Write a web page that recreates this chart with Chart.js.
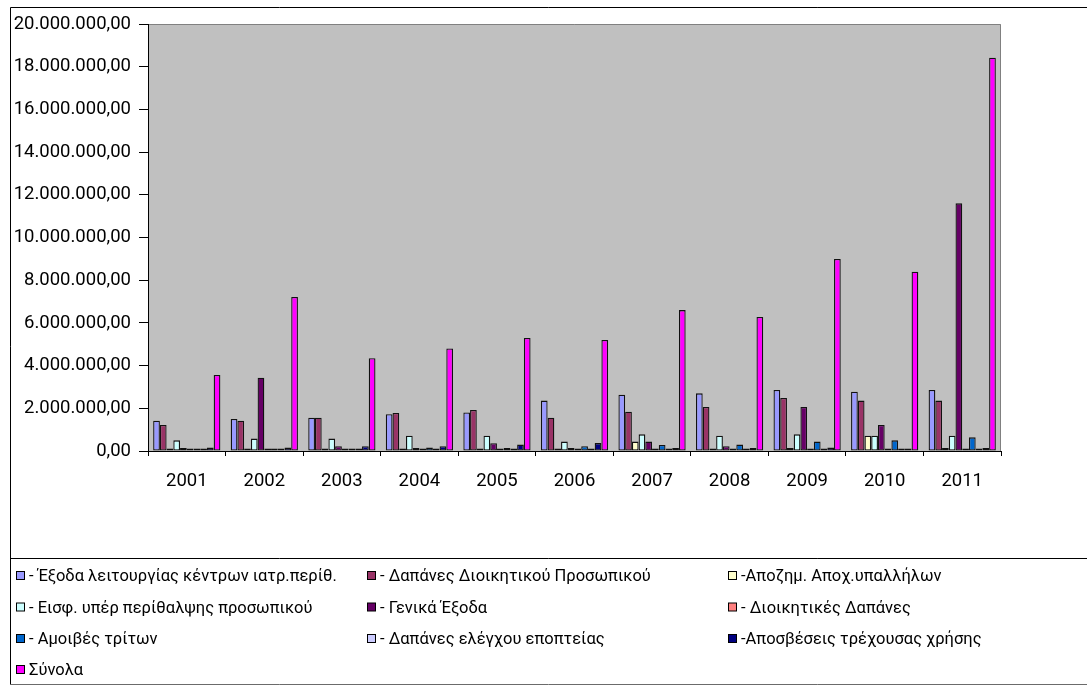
<!DOCTYPE html>
<html>
<head>
<meta charset="utf-8">
<script src="https://cdn.jsdelivr.net/npm/chart.js@4.4.1/dist/chart.umd.min.js"></script>
<style>
  html, body { margin: 0; padding: 0; background: #fff; }
  #wrap { position: relative; width: 1087px; height: 689px; }
</style>
</head>
<body>
<div id="wrap"><canvas id="c" width="1087" height="689"></canvas></div>
<script>
// Years on the category axis
const years = ['2001', '2002', '2003', '2004', '2005', '2006', '2007', '2008', '2009', '2010', '2011'];

// Expense categories (legend order)
const seriesNames = [
  '- Έξοδα λειτουργίας κέντρων ιατρ.περίθ.',
  '- Δαπάνες Διοικητικού Προσωπικού',
  '-Αποζημ. Αποχ.υπαλλήλων',
  '- Εισφ. υπέρ περίθαλψης προσωπικού',
  '- Γενικά Έξοδα',
  '- Διοικητικές Δαπάνες',
  '- Αμοιβές τρίτων',
  '- Δαπάνες ελέγχου εποπτείας',
  '-Αποσβέσεις τρέχουσας χρήσης',
  'Σύνολα'
];

// Amounts per year (euro)
const exodaKentron    = [1420000, 1500000, 1560000, 1720000, 1800000, 2360000, 2640000, 2700000, 2860000, 2780000, 2860000];
const dapanesProsop   = [1220000, 1420000, 1560000, 1780000, 1920000, 1560000, 1840000, 2060000, 2480000, 2360000, 2360000];
const apozimiosi      = [20000, 30000, 20000, 30000, 30000, 30000, 440000, 40000, 140000, 720000, 140000];
const eisforesPerith  = [500000, 580000, 580000, 720000, 720000, 440000, 780000, 720000, 780000, 720000, 720000];
const genikaExoda     = [140000, 3430000, 220000, 140000, 360000, 140000, 440000, 220000, 2060000, 1220000, 11600000];
const dioikitikes     = [15000, 15000, 15000, 15000, 15000, 15000, 15000, 15000, 15000, 15000, 15000];
const amoivesTriton   = [80000, 50000, 60000, 160000, 140000, 220000, 280000, 300000, 440000, 500000, 640000];
const elegxosEpopt    = [40000, 40000, 40000, 60000, 40000, 40000, 40000, 40000, 40000, 40000, 40000];
const aposveseis      = [160000, 160000, 220000, 220000, 300000, 370000, 140000, 140000, 160000, 30000, 140000];
const synola          = [3560000, 7210000, 4350000, 4800000, 5290000, 5200000, 6600000, 6280000, 8990000, 8400000, 18420000];

// Value axis
const yMin = 0, yMax = 20000000, yStep = 2000000;

const seriesValues = [exodaKentron, dapanesProsop, apozimiosi, eisforesPerith, genikaExoda,
                      dioikitikes, amoivesTriton, elegxosEpopt, aposveseis, synola];
const seriesColors = ['#9999FF', '#993366', '#FFFFCC', '#CCFFFF', '#660066',
                      '#FF8080', '#0066CC', '#CCCCFF', '#000080', '#FF00FF'];

const FONT = 'Roboto, "Noto Sans", "Liberation Sans", sans-serif';

// Greek number format: 20.000.000,00
function formatEl(v) {
  const fixed = Math.abs(v).toFixed(2);
  const parts = fixed.split('.');
  const intPart = parts[0].replace(/\B(?=(\d{3})+(?!\d))/g, '.');
  return (v < 0 ? '-' : '') + intPart + ',' + parts[1];
}

// Grey plot background with darker top/right edges
const plotBackground = {
  id: 'plotBackground',
  beforeDraw(chart) {
    const { ctx, chartArea: a, width, height } = chart;
    ctx.save();
    ctx.fillStyle = '#ffffff';
    ctx.fillRect(0, 0, width, height);
    ctx.fillStyle = '#C0C0C0';
    ctx.fillRect(a.left, a.top, a.right - a.left, a.bottom - a.top);
    ctx.strokeStyle = '#808080';
    ctx.lineWidth = 1;
    ctx.beginPath();
    ctx.moveTo(a.left, a.top + 0.5);
    ctx.lineTo(a.right - 0.5, a.top + 0.5);
    ctx.lineTo(a.right - 0.5, a.bottom);
    ctx.stroke();
    ctx.restore();
  }
};

// Outer frame and the three-column legend at the bottom
const frameAndLegend = {
  id: 'frameAndLegend',
  afterDraw(chart) {
    const { ctx } = chart;
    ctx.save();
    ctx.lineWidth = 1;
    ctx.strokeStyle = '#000';
    ctx.beginPath();
    ctx.moveTo(10.5, 7.5); ctx.lineTo(1087, 7.5);
    ctx.moveTo(10.5, 7.5); ctx.lineTo(10.5, 685);
    ctx.moveTo(10.5, 558.5); ctx.lineTo(1087, 558.5);
    ctx.stroke();
    ctx.strokeStyle = '#6b6b6b';
    ctx.beginPath();
    ctx.moveTo(10, 684.5); ctx.lineTo(1087, 684.5);
    ctx.stroke();

    const colX = [16, 367, 728];
    const rowY = [576, 607.5, 639, 670];
    ctx.font = '16.5px ' + FONT;
    ctx.textBaseline = 'middle';
    ctx.textAlign = 'left';
    chart.data.datasets.forEach((ds, i) => {
      const x = colX[i % 3];
      const y = rowY[Math.floor(i / 3)];
      ctx.fillStyle = ds.backgroundColor;
      ctx.fillRect(x + 0.5, y - 4.5, 8, 8);
      ctx.strokeStyle = '#000';
      ctx.strokeRect(x + 0.5, y - 4.5, 8, 8);
      ctx.fillStyle = '#000';
      ctx.fillText(ds.label, x + 13, y + 1);
    });
    ctx.restore();
  }
};

const datasets = seriesNames.map((name, i) => ({
  label: name,
  data: seriesValues[i],
  backgroundColor: seriesColors[i],
  borderColor: '#111111',
  borderWidth: 1.3,
  borderSkipped: false,
  minBarLength: 2.5,
  categoryPercentage: 0.867,
  barPercentage: 1.0
}));

new Chart(document.getElementById('c'), {
  type: 'bar',
  data: { labels: years, datasets },
  options: {
    responsive: false,
    animation: false,
    devicePixelRatio: 1,
    layout: { padding: { left: 0, right: 86, top: 24, bottom: 0 } },
    plugins: {
      legend: { display: false },
      tooltip: { enabled: false }
    },
    scales: {
      x: {
        afterFit(s) { s.height = 238; },
        grid: { display: true, drawOnChartArea: false, drawTicks: true, tickLength: 5, color: '#000', offset: true },
        border: { display: true, color: '#000', width: 1 },
        ticks: { color: '#000', font: { family: FONT, size: 18.5 }, padding: 14, maxRotation: 0 }
      },
      y: {
        min: yMin,
        max: yMax,
        afterFit(s) { s.width = 148; },
        grid: { display: true, drawOnChartArea: false, drawTicks: true, tickLength: 9, color: '#000' },
        border: { display: true, color: '#000', width: 1 },
        ticks: {
          stepSize: yStep,
          color: '#000',
          font: { family: FONT, size: 18.5 },
          padding: 8,
          callback: (v) => formatEl(v)
        }
      }
    }
  },
  plugins: [plotBackground, frameAndLegend]
});
</script>
</body>
</html>
